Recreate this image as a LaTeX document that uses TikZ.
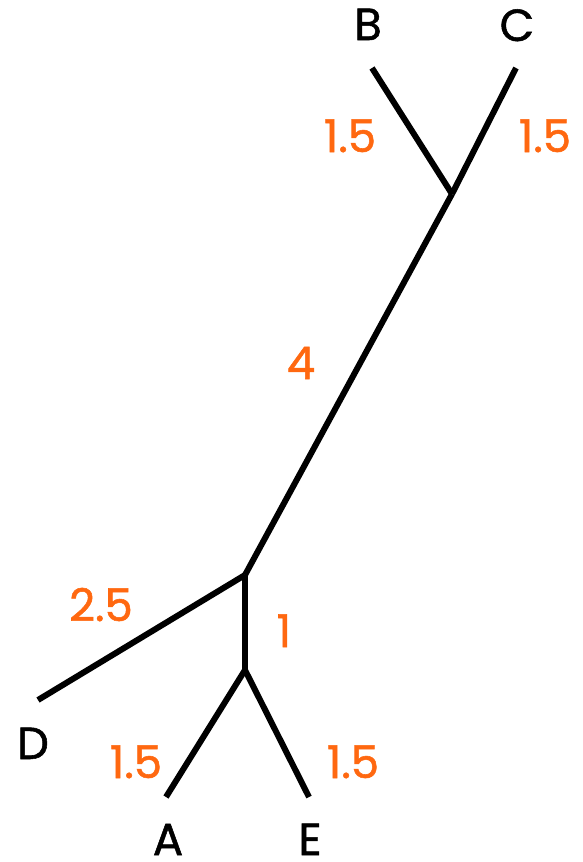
\documentclass[tikz,border=0pt]{standalone}
\usepackage{fontspec}
\newfontfamily\treefont{Poppins}[FakeBold=1.2]
\usetikzlibrary{positioning}
\definecolor{edgeorange}{RGB}{255,104,16}

\begin{document}
\begin{tikzpicture}[x=1pt, y=-1pt,
  branch/.style={line width=6pt, black},
  taxon/.style={font=\treefont\fontsize{45}{50}\selectfont, text=black, inner sep=0pt, anchor=base},
  blen/.style={font=\treefont\fontsize{45}{50}\selectfont, text=edgeorange, inner sep=0pt, anchor=base}
]
  \useasboundingbox (0,0) rectangle (582,862);

  % internal nodes
  \coordinate (U) at (452,194);
  \coordinate (V) at (245,575);
  \coordinate (W) at (245,670);

  % leaf ends
  \coordinate (Bend) at (372,68);
  \coordinate (Cend) at (516,68);
  \coordinate (Dend) at (38,700);
  \coordinate (Aend) at (166,797);
  \coordinate (Eend) at (309,797);

  % branches
  \draw[branch] (U) -- (Bend);
  \draw[branch] (U) -- (Cend);
  \draw[branch] (U) -- (V);
  \draw[branch] (V) -- (Dend);
  \draw[branch] (V) -- (W);
  \draw[branch] (W) -- (Aend);
  \draw[branch] (W) -- (Eend);

  % taxa
  \node[taxon] (B) at (368,40) {B};
  \node[taxon] (C) at (517,41) {C};
  \node[taxon] (D) at (33,759) {D};
  \node[taxon] (A) at (168,855) {A};
  \node[taxon] (E) at (310,855) {E};

  % branch lengths
  \node[blen] (lUB) at (350,152) {1.5};
  \node[blen] (lUC) at (545,152) {1.5};
  \node[blen] (lUV) at (301,379) {4};
  \node[blen] (lVD) at (101,621) {2.5};
  \node[blen] (lVW) at (284,647) {1};
  \node[blen] (lWA) at (136,778) {1.5};
  \node[blen] (lWE) at (353,778) {1.5};
\end{tikzpicture}
\end{document}
